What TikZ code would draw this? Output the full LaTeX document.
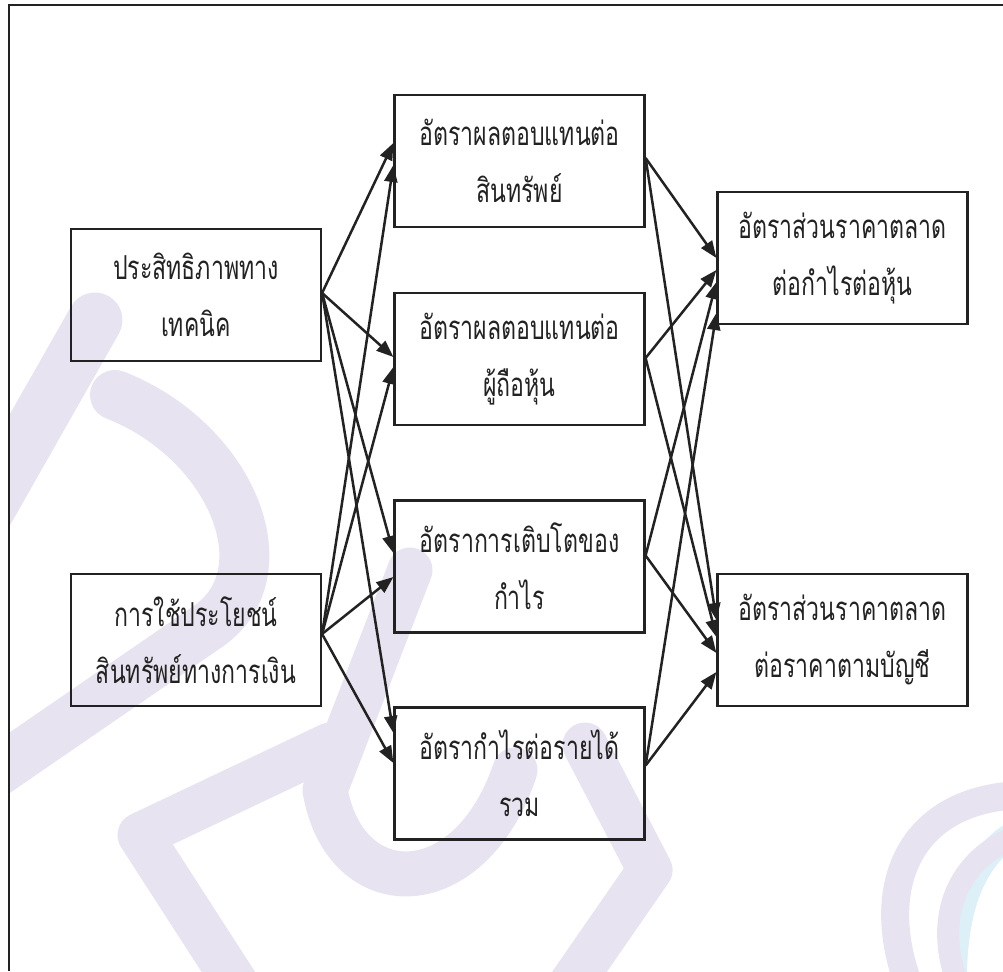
\documentclass[tikz,border=0pt]{standalone}
\usepackage{fontspec}
\newfontfamily\thaifont[Script=Thai,FakeStretch=0.7]{Loma}
\usetikzlibrary{arrows.meta,calc}
\definecolor{ink}{HTML}{222222}
\definecolor{wm}{HTML}{E8E3F0}
\definecolor{wmblue}{HTML}{DDF0F8}
\begin{document}
\begin{tikzpicture}[x=1pt,y=-1pt,
  box/.style={draw=ink, line width=2.2pt, minimum width=250pt, minimum height=132pt,
    inner sep=0pt, align=center, text=ink, font=\thaifont\fontsize{33}{57}\selectfont},
  conn/.style={draw=ink, line width=2.5pt, -{Triangle[length=17pt,width=13pt]}},
  wmband/.style={draw=wm, line width=50pt, line cap=round, line join=round},
  frame/.style={draw=ink, line width=2pt}]
\useasboundingbox (0,0) rectangle (1003,971);
% watermark
\begin{scope}
\clip (9,5) rectangle (1003,971);
\draw[wmband, line width=55pt] (95,320) -- (-30,540);
\draw[wmband] (115,395) .. controls (230,440) and (285,570) .. (210,625) -- (-30,790);
\draw[wmband, line width=45pt] (330,745) -- (140,835) -- (240,990);
\draw[wmband, line width=45pt] (410,570) -- (325,790) .. controls (345,905) and (470,905) .. (515,770);
\draw[wmband, line width=45pt] (585,745) -- (650,870) -- (560,1000);
\draw[draw=wmblue, line width=25pt] (955,1000) .. controls (950,900) and (980,850) .. (1020,830);
\draw[wmband, line width=28pt] (1020,795) .. controls (900,800) and (870,900) .. (915,1000);
\draw[wmband, line width=22pt] (1020,835) .. controls (950,860) and (930,930) .. (965,1000);
\end{scope}
% frame
\draw[frame] (1003,5) -- (9,5) -- (9,971);
% boxes
\node[box] (A)  at (196,295)   {ประสิทธิภาพทาง\\เทคนิค};
\node[box] (B)  at (196,640)   {การใช้ประโยชน์\\สินทรัพย์ทางการเงิน};
\node[box] (M1) at (519.5,161) {อัตราผลตอบแทนต่อ\\สินทรัพย์};
\node[box] (M2) at (519.5,359) {อัตราผลตอบแทนต่อ\\ผู้ถือหุ้น};
\node[box] (M3) at (519.5,566.5) {อัตราการเติบโตของ\\กำไร};
\node[box] (M4) at (519.5,773.5) {อัตรากำไรต่อรายได้\\รวม};
\node[box] (R1) at (842.5,258) {อัตราส่วนราคาตลาด\\ต่อกำไรต่อหุ้น};
\node[box] (R2) at (842.5,640) {อัตราส่วนราคาตลาด\\ต่อราคาตามบัญชี};
% connectors left -> middle
\draw[conn] ($(A.east)+(0,-2)$) -- ($(M1.west)+(0,-18)$);
\draw[conn] ($(A.east)+(0,-2)$) -- ($(M2.west)+(0,-2)$);
\draw[conn] ($(A.east)+(0,-2)$) -- ($(M3.west)+(0,-13.5)$);
\draw[conn] ($(A.east)+(0,-2)$) -- ($(M4.west)+(0,-40.5)$);
\draw[conn] ($(B.east)+(0,-6)$) -- ($(M1.west)+(0,4)$);
\draw[conn] ($(B.east)+(0,-6)$) -- ($(M2.west)+(0,8)$);
\draw[conn] ($(B.east)+(0,-6)$) -- ($(M3.west)+(0,10.5)$);
\draw[conn] ($(B.east)+(0,-6)$) -- ($(M4.west)+(0,-10.5)$);
% connectors middle -> right
\draw[conn] ($(M1.east)+(0,-3)$) -- ($(R1.west)+(0,0)$);
\draw[conn] ($(M2.east)+(0,-1)$) -- ($(R1.west)+(0,12)$);
\draw[conn] ($(M3.east)+(0,-11)$) -- ($(R1.west)+(0,24)$);
\draw[conn] ($(M4.east)+(0,-8)$) -- ($(R1.west)+(0,55)$);
\draw[conn] ($(M1.east)+(0,-3)$) -- ($(R2.west)+(0,-20)$);
\draw[conn] ($(M2.east)+(0,-1)$) -- ($(R2.west)+(0,-3)$);
\draw[conn] ($(M3.east)+(0,-11)$) -- ($(R2.west)+(0,13)$);
\draw[conn] ($(M4.east)+(0,-8)$) -- ($(R2.west)+(0,32)$);
\end{tikzpicture}
\end{document}
